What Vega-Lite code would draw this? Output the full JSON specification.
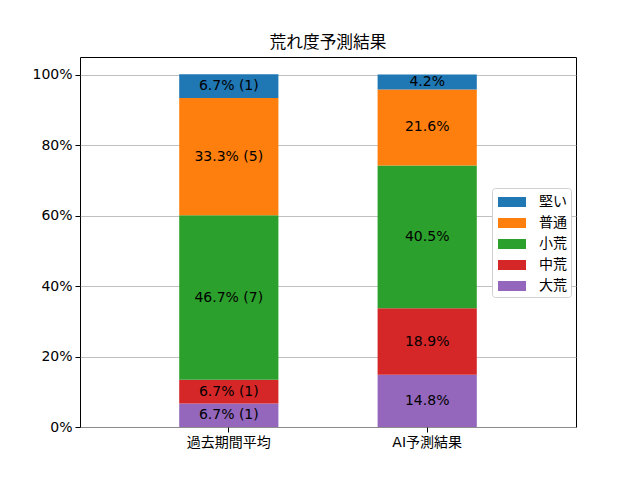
{
  "$schema": "https://vega.github.io/schema/vega-lite/v6.json",
  "width": 496,
  "height": 370,
  "autosize": "none",
  "padding": {"left": 80, "top": 57, "right": 64, "bottom": 53},
  "background": "white",
  "title": {
    "text": "荒れ度予測結果",
    "font": "DejaVu Sans, Noto Sans CJK JP",
    "fontSize": 16.7,
    "fontWeight": "normal",
    "color": "black",
    "offset": 5
  },
  "config": {
    "font": "DejaVu Sans, Noto Sans CJK JP",
    "view": {"stroke": "black", "strokeWidth": 1}
  },
  "data": {
    "values": [
      {"case": "過去期間平均", "level": "大荒", "rank": 1, "pct": 6.7, "label": "6.7% (1)"},
      {"case": "過去期間平均", "level": "中荒", "rank": 2, "pct": 6.7, "label": "6.7% (1)"},
      {"case": "過去期間平均", "level": "小荒", "rank": 3, "pct": 46.7, "label": "46.7% (7)"},
      {"case": "過去期間平均", "level": "普通", "rank": 4, "pct": 33.3, "label": "33.3% (5)"},
      {"case": "過去期間平均", "level": "堅い", "rank": 5, "pct": 6.7, "label": "6.7% (1)"},
      {"case": "AI予測結果", "level": "大荒", "rank": 1, "pct": 14.8, "label": "14.8%"},
      {"case": "AI予測結果", "level": "中荒", "rank": 2, "pct": 18.9, "label": "18.9%"},
      {"case": "AI予測結果", "level": "小荒", "rank": 3, "pct": 40.5, "label": "40.5%"},
      {"case": "AI予測結果", "level": "普通", "rank": 4, "pct": 21.6, "label": "21.6%"},
      {"case": "AI予測結果", "level": "堅い", "rank": 5, "pct": 4.2, "label": "4.2%"}
    ]
  },
  "encoding": {
    "x": {
      "field": "case",
      "type": "nominal",
      "sort": ["過去期間平均", "AI予測結果"],
      "scale": {"paddingInner": 0.5, "paddingOuter": 0.5},
      "axis": {
        "title": null,
        "labelAngle": 0,
        "labelFontSize": 14,
        "labelColor": "black",
        "domain": false,
        "tickColor": "black",
        "tickSize": 5,
        "labelPadding": 3
      }
    },
    "y": {
      "field": "pct",
      "type": "quantitative",
      "stack": "zero",
      "scale": {"domain": [0, 105], "nice": false},
      "axis": {
        "title": null,
        "values": [0, 20, 40, 60, 80, 100],
        "labelExpr": "datum.value + '%'",
        "labelFontSize": 14,
        "labelColor": "black",
        "domain": false,
        "tickColor": "black",
        "tickSize": 5,
        "labelPadding": 3,
        "grid": true,
        "gridColor": "#b0b0b0",
        "gridWidth": 0.8
      }
    },
    "order": {"field": "rank", "type": "quantitative"}
  },
  "layer": [
    {
      "mark": {"type": "bar"},
      "encoding": {
        "color": {
          "field": "level",
          "type": "nominal",
          "scale": {
            "domain": ["堅い", "普通", "小荒", "中荒", "大荒"],
            "range": ["#1f77b4", "#ff7f0e", "#2ca02c", "#d62728", "#9467bd"]
          },
          "legend": {
            "title": null,
            "orient": "none",
            "legendX": 412,
            "legendY": 131,
            "symbolType": "M-1.4,-0.5H1.4V0.5H-1.4Z",
            "symbolSize": 400,
            "symbolStrokeWidth": 0,
            "symbolOffset": 6,
            "labelFontSize": 14,
            "labelColor": "black",
            "labelOffset": 17,
            "rowPadding": 4,
            "padding": 4,
            "fillColor": "white",
            "strokeColor": "#d0d0d0",
            "cornerRadius": 3
          }
        }
      }
    },
    {
      "mark": {"type": "text", "fontSize": 14, "color": "black", "baseline": "middle", "align": "center"},
      "encoding": {
        "y": {"field": "pct", "type": "quantitative", "stack": "zero", "bandPosition": 0.5},
        "text": {"field": "label"}
      }
    }
  ]
}
